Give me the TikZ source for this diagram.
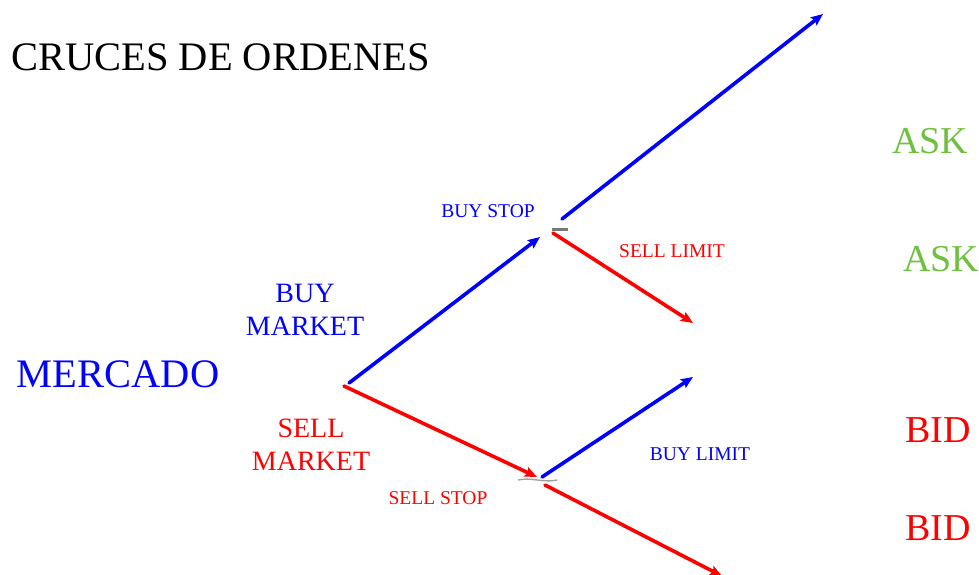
\documentclass[tikz,border=0pt]{standalone}
\usepackage{fontspec}
\setmainfont{Liberation Serif}
\usetikzlibrary{arrows.meta}

\definecolor{buyblue}{RGB}{0,0,255}
\definecolor{sellred}{RGB}{255,0,0}
\definecolor{askgreen}{RGB}{112,192,64}
\definecolor{markgray}{RGB}{120,120,120}

\tikzset{
  buyline/.style={draw=buyblue, line width=3.6pt, line cap=round,
    -{Stealth[length=12pt,width=10pt,inset=2pt]}},
  sellline/.style={draw=sellred, line width=3.6pt, line cap=round,
    -{Stealth[length=12pt,width=10pt,inset=2pt]}},
  biglabel/.style={inner sep=0pt, font=\fontsize{38}{40}\selectfont},
  titlelabel/.style={inner sep=0pt, font=\fontsize{40.5}{42}\selectfont},
  midlabel/.style={inner sep=0pt, align=center, font=\fontsize{28}{33}\selectfont},
  smalllabel/.style={inner sep=0pt, font=\fontsize{19.5}{22}\selectfont},
}

\begin{document}
\begin{tikzpicture}[x=1pt, y=-1pt]

    % 画面の大きさ
    \useasboundingbox (0,0) rectangle (979,574);

    % タイトル
    \node[titlelabel, anchor=west] (titulo) at (11,57) {CRUCES DE ORDENES};

    % 左側のラベル
    \node[titlelabel, text=buyblue] (mercado) at (118,374) {MERCADO};
    \node[midlabel, text=buyblue] (buymkt) at (305,310) {BUY\\MARKET};
    \node[midlabel, text=sellred] (sellmkt) at (311,445) {SELL\\MARKET};

    % 中央の注文ラベル
    \node[smalllabel, text=buyblue] (buystop) at (488,211) {BUY STOP};
    \node[smalllabel, text=sellred] (selllimit) at (672,251) {SELL LIMIT};
    \node[smalllabel, text=buyblue] (buylimit) at (700,454) {BUY LIMIT};
    \node[smalllabel, text=sellred] (sellstop) at (438,498) {SELL STOP};

    % 右側の ASK / BID
    \node[biglabel, text=askgreen] (ask1) at (930,141) {ASK};
    \node[biglabel, text=askgreen] (ask2) at (941,259) {ASK};
    \node[biglabel, text=sellred] (bid1) at (938,430) {BID};
    \node[biglabel, text=sellred] (bid2) at (938,528) {BID};

    % 分岐点
    \coordinate (m0) at (349,383);
    \coordinate (m1) at (344,386);
    \coordinate (arriba) at (540,237);
    \coordinate (abajo) at (537,477);
    \coordinate (a1) at (562,219);
    \coordinate (a2) at (553,233);
    \coordinate (b1) at (542,477);
    \coordinate (b2) at (545,485);
    \coordinate (fin1) at (823,14);
    \coordinate (fin2) at (693,323);
    \coordinate (fin3) at (693,377);
    \coordinate (fin4) at (722,576);

    % 灰色の小さな印
    \coordinate (g1) at (552,229);
    \coordinate (g2) at (568,229);
    \coordinate (g3) at (518,480);
    \coordinate (g4) at (557,480);
    \draw[markgray, line width=3pt] (g1) -- (g2);
    \draw[markgray!70, line width=1.4pt] (g3) .. controls (530,477) and (545,483) .. (g4);

    % 矢印
    \draw[buyline] (m0) -- (arriba);
    \draw[sellline] (m1) -- (abajo);
    \draw[buyline] (a1) -- (fin1);
    \draw[sellline] (a2) -- (fin2);
    \draw[buyline] (b1) -- (fin3);
    \draw[sellline] (b2) -- (fin4);
    %
\end{tikzpicture}
\end{document}
